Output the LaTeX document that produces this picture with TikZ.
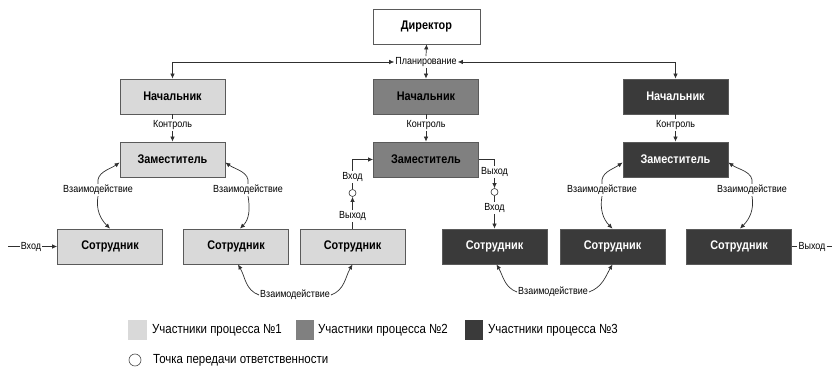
\documentclass[tikz,border=0pt]{standalone}
\usepackage{fontspec}
\setmainfont{Liberation Sans}
\newfontfamily\nfont[FakeStretch=0.87]{Liberation Sans}
\usetikzlibrary{arrows.meta}
\definecolor{gA}{HTML}{D9D9D9}
\definecolor{gB}{HTML}{808080}
\definecolor{gC}{HTML}{3A3A3A}
\definecolor{bord}{HTML}{5A5A5A}
\definecolor{ln}{HTML}{303030}
\begin{document}
\begin{tikzpicture}[x=1pt,y=1pt,
  box/.style={draw=bord,line width=0.8pt,minimum width=105pt,minimum height=35pt,inner sep=0pt,font=\nfont\fontsize{12.5}{14}\selectfont\bfseries},
  pA/.style={box,fill=gA},
  pB/.style={box,fill=gB},
  pC/.style={box,fill=gC,text=white},
  lab/.style={inner sep=1pt,font=\nfont\fontsize{10.3}{11}\selectfont},
  leg/.style={anchor=west,inner sep=0pt,font=\nfont\fontsize{13.2}{15}\selectfont},
  pt/.style={circle,draw=ln,fill=white,line width=0.6pt,minimum size=7pt,inner sep=0pt},
  con/.style={draw=ln,line width=0.7pt},
  arr/.style={con,-{Latex[length=5pt,width=4.5pt]}},
  darr/.style={con,{Latex[length=5pt,width=4.5pt]}-{Latex[length=5pt,width=4.5pt]}}
]
\useasboundingbox (0,0) rectangle (832,374);
% boxes
\node[box,fill=white,minimum width=107pt] (dir) at (426.5,347.5) {Директор};
\node[pA] (n1) at (172.5,277.5) {Начальник};
\node[pB] (n2) at (426,277.5) {Начальник};
\node[pC] (n3) at (675.5,277.5) {Начальник};
\node[pA] (z1) at (172.5,214.5) {Заместитель};
\node[pB] (z2) at (426,214.5) {Заместитель};
\node[pC] (z3) at (675.5,214.5) {Заместитель};
\node[pA] (sA) at (110,127.5) {Сотрудник};
\node[pA] (sB) at (236,127.5) {Сотрудник};
\node[pA] (sC) at (352.5,127.5) {Сотрудник};
\node[pC] (sD) at (494.5,127.5) {Сотрудник};
\node[pC] (sE) at (612.5,127.5) {Сотрудник};
\node[pC] (sF) at (739,127.5) {Сотрудник};
% planning
\node[lab] (plan) at (426,312) {Планирование};
\draw[arr] (plan.north) -- (dir.south);
\draw[arr] (plan.south) -- (n2.north);
\draw[darr] (n1.north) |- (plan.west);
\draw[darr] (n3.north) |- (plan.east);
% control
\node[lab] (k1) at (172.5,249) {Контроль};
\node[lab] (k2) at (426,249) {Контроль};
\node[lab] (k3) at (675.5,249) {Контроль};
\draw[con] (n1.south) -- (k1.north); \draw[arr] (k1.south) -- (z1.north);
\draw[con] (n2.south) -- (k2.north); \draw[arr] (k2.south) -- (z2.north);
\draw[con] (n3.south) -- (k3.north); \draw[arr] (k3.south) -- (z3.north);
% interaction (upper)
\node[lab] (iA) at (98,184) {Взаимодействие};
\node[lab] (iB) at (248,184) {Взаимодействие};
\node[lab] (iE) at (602,184) {Взаимодействие};
\node[lab] (iF) at (752,184) {Взаимодействие};
\draw[arr] (iA.north) to[out=100,in=215] ([yshift=-3pt]z1.west);
\draw[arr] (iA.south) to[out=-100,in=135] (sA.north);
\draw[arr] (iB.north) to[out=80,in=-35] ([yshift=-3pt]z1.east);
\draw[arr] (iB.south) to[out=-80,in=45] ([xshift=4pt]sB.north);
\draw[arr] (iE.north) to[out=100,in=215] ([yshift=-3pt]z3.west);
\draw[arr] (iE.south) to[out=-100,in=135] (sE.north);
\draw[arr] (iF.north) to[out=80,in=-35] ([yshift=-3pt]z3.east);
\draw[arr] (iF.south) to[out=-80,in=45] ([xshift=1pt]sF.north);
% interaction (lower)
\node[lab] (bC) at (295,79) {Взаимодействие};
\node[lab] (bD) at (553,82) {Взаимодействие};
\draw[arr] (bC.west) to[out=160,in=-60] ([xshift=2pt]sB.south);
\draw[arr] (bC.east) to[out=20,in=-120] (sC.south);
\draw[arr] (bD.west) to[out=160,in=-60] ([xshift=2pt]sD.south);
\draw[arr] (bD.east) to[out=20,in=-120] (sE.south);
% input / output
\coordinate (inS) at (8,127.5);
\node[lab] (inA) at (31,127.5) {Вход};
\draw[con] (inS) -- (inA.west);
\draw[arr] (inA.east) -- (sA.west);
\node[lab] (outF) at (812,127.5) {Выход};
\coordinate (outE) at (832,127.5);
\draw[con] (sF.east) -- (outF.west);
\draw[con] (outF.east) -- (outE);
% handover C -> Z2
\node[lab] (oC) at (352.5,158) {Выход};
\node[pt] (p1) at (352.5,181) {};
\node[lab] (iZ) at (352.5,197) {Вход};
\draw[con] (sC.north) -- (oC.south);
\draw[arr] (oC.north) -- (p1.south);
\draw[con] (p1.north) -- (iZ.south);
\draw[arr] (iZ.north) |- (z2.west);
% handover Z2 -> D
\node[lab] (oZ) at (494.5,202) {Выход};
\node[pt] (p2) at (494.5,182) {};
\node[lab] (iD) at (494.5,166) {Вход};
\draw[con] (z2.east) -| (oZ.north);
\draw[arr] (oZ.south) -- (p2.north);
\draw[con] (p2.south) -- (iD.north);
\draw[arr] (iD.south) -- (sD.north);
% legend
\fill[gA] (128,34) rectangle (147,54);
\fill[gB] (296,34) rectangle (314,54);
\fill[gC] (465,34) rectangle (483,54);
\node[leg] (l1) at (152,44) {Участники процесса №1};
\node[leg] (l2) at (318,44) {Участники процесса №2};
\node[leg] (l3) at (488,44) {Участники процесса №3};
\node[pt,minimum size=12pt,draw=black!70] (lp) at (135,14) {};
\node[leg] (l4) at (153,14) {Точка передачи ответственности};
\end{tikzpicture}
\end{document}
